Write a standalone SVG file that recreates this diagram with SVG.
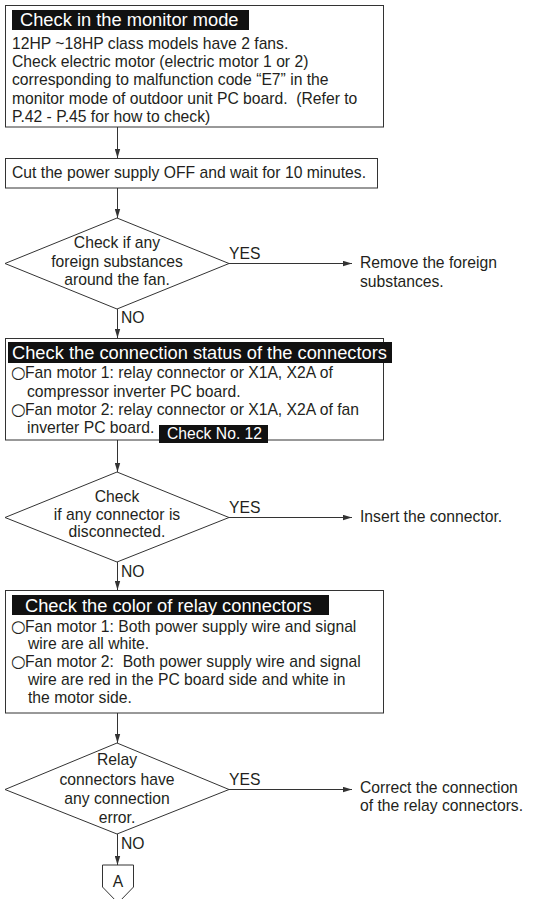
<svg xmlns="http://www.w3.org/2000/svg" width="533" height="899" viewBox="0 0 533 899">
<style>
.t{font-family:"Liberation Sans",Arial,"DejaVu Sans",sans-serif;font-size:15.7px;fill:#231f20}
.c{text-anchor:middle}
.h{font-size:18.3px;fill:#fff}
.w{fill:#fff}
.o{font-family:"DejaVu Sans",sans-serif;font-size:16.5px}
.box{fill:#fff;stroke:#333;stroke-width:1}
.band{fill:#111}
.ln{stroke:#333;stroke-width:1;fill:none}
</style>
<defs>
<marker id="ah" markerUnits="userSpaceOnUse" markerWidth="9" markerHeight="6" refX="9" refY="3" orient="auto">
<path d="M0,0.3 L9,3 L0,5.7 z" fill="#333"/>
</marker>
</defs>
<rect width="533" height="899" fill="#fff"/>
<g id="connectors">
<line class="ln" x1="117.5" y1="127" x2="117.5" y2="158" marker-end="url(#ah)"/>
<line class="ln" x1="117.5" y1="188" x2="117.5" y2="218" marker-end="url(#ah)"/>
<line class="ln" x1="229" y1="263.5" x2="352" y2="263.5" marker-end="url(#ah)"/>
<line class="ln" x1="117.5" y1="309" x2="117.5" y2="338" marker-end="url(#ah)"/>
<line class="ln" x1="117.5" y1="440" x2="117.5" y2="472" marker-end="url(#ah)"/>
<line class="ln" x1="229" y1="517.5" x2="352" y2="517.5" marker-end="url(#ah)"/>
<line class="ln" x1="117.5" y1="562" x2="117.5" y2="590" marker-end="url(#ah)"/>
<line class="ln" x1="117.5" y1="713" x2="117.5" y2="743" marker-end="url(#ah)"/>
<line class="ln" x1="229" y1="789.5" x2="352" y2="789.5" marker-end="url(#ah)"/>
<line class="ln" x1="117.5" y1="834" x2="117.5" y2="865" marker-end="url(#ah)"/>
<text class="t" x="229" y="259">YES</text>
<text class="t" x="121" y="323">NO</text>
<text class="t" x="229" y="513">YES</text>
<text class="t" x="121" y="577">NO</text>
<text class="t" x="229" y="785">YES</text>
<text class="t" x="121" y="849">NO</text>
</g>
<g id="n1">
<rect class="box" x="5.5" y="5.5" width="378" height="121.5"/>
<rect class="band" x="12" y="10" width="237" height="20"/>
<text class="t h" x="20" y="26">Check in the monitor mode</text>
<text class="t" x="12" y="49">12HP ~18HP class models have 2 fans.</text>
<text class="t" x="12" y="67">Check electric motor (electric motor 1 or 2)</text>
<text class="t" x="12" y="85">corresponding to malfunction code “E7” in the</text>
<text class="t" x="12" y="103.5" xml:space="preserve">monitor mode of outdoor unit PC board.  (Refer to</text>
<text class="t" x="12" y="122">P.42 - P.45 for how to check)</text>
</g>
<g id="n2">
<rect class="box" x="5.5" y="158.5" width="372" height="29.5"/>
<text class="t" x="12" y="178">Cut the power supply OFF and wait for 10 minutes.</text>
</g>
<g id="d1">
<polygon class="box" points="5,263.5 117,218 229,263.5 117,309"/>
<text class="t c" x="117" y="248">Check if any</text>
<text class="t c" x="117" y="267">foreign substances</text>
<text class="t c" x="117" y="285">around the fan.</text>
</g>
<g id="r1">
<text class="t" x="360" y="268">Remove the foreign</text>
<text class="t" x="360" y="287">substances.</text>
</g>
<g id="n3">
<rect class="box" x="5.5" y="338.5" width="378" height="101.5"/>
<rect class="band" x="8" y="342" width="384" height="21"/>
<text class="t h" x="12" y="359">Check the connection status of the connectors</text>
<text class="t" y="378"><tspan class="o" x="11">○</tspan><tspan x="25">Fan motor 1: relay connector or X1A, X2A of</tspan></text>
<text class="t" x="27" y="397">compressor inverter PC board.</text>
<text class="t" y="415"><tspan class="o" x="11">○</tspan><tspan x="25">Fan motor 2: relay connector or X1A, X2A of fan</tspan></text>
<text class="t" x="27" y="433">inverter PC board.</text>
<rect class="band" x="159" y="425" width="109" height="18"/>
<text class="t w" x="167" y="439">Check No. 12</text>
</g>
<g id="d2">
<polygon class="box" points="5,517.5 117,472 229,517.5 117,562"/>
<text class="t c" x="117" y="502">Check</text>
<text class="t c" x="117" y="520">if any connector is</text>
<text class="t c" x="117" y="537">disconnected.</text>
</g>
<g id="r2">
<text class="t" x="360" y="522">Insert the connector.</text>
</g>
<g id="n4">
<rect class="box" x="5.5" y="590.5" width="378" height="122.5"/>
<rect class="band" x="12" y="595" width="317" height="20"/>
<text class="t h" x="25" y="612">Check the color of relay connectors</text>
<text class="t" y="632"><tspan class="o" x="11">○</tspan><tspan x="25">Fan motor 1: Both power supply wire and signal</tspan></text>
<text class="t" x="28" y="649">wire are all white.</text>
<text class="t" y="667" xml:space="preserve"><tspan class="o" x="11">○</tspan><tspan x="25">Fan motor 2:  Both power supply wire and signal</tspan></text>
<text class="t" x="28" y="685">wire are red in the PC board side and white in</text>
<text class="t" x="28" y="703">the motor side.</text>
</g>
<g id="d3">
<polygon class="box" points="5,789.5 117,743 229,789.5 117,834"/>
<text class="t c" x="117" y="765">Relay</text>
<text class="t c" x="117" y="785">connectors have</text>
<text class="t c" x="117" y="804">any connection</text>
<text class="t c" x="117" y="823">error.</text>
</g>
<g id="r3">
<text class="t" x="360" y="793">Correct the connection</text>
<text class="t" x="360" y="811">of the relay connectors.</text>
</g>
<g id="A">
<polygon class="box" points="102.5,865 133.5,865 133.5,887 118,903 102.5,887"/>
<text class="t c" x="118" y="887">A</text>
</g>
</svg>
